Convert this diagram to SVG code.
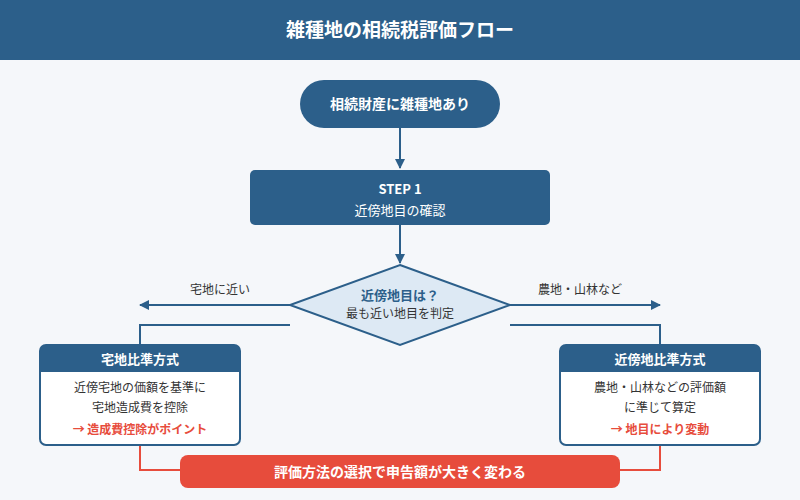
<svg xmlns="http://www.w3.org/2000/svg" width="800" height="500" viewBox="0 0 800 500">
<defs>
<marker id="ah" markerWidth="10" markerHeight="10" refX="9" refY="5" orient="auto" markerUnits="userSpaceOnUse"><path d="M0,0 L10,5 L0,10 z" fill="#2c5f8a"/></marker>
<style>
text{font-family:"Noto Sans CJK JP","Noto Sans",sans-serif;text-anchor:middle}
.w{fill:#fff}.b{font-weight:bold}
.dk{fill:#2c5f8a}
.ln{stroke:#2c5f8a;stroke-width:2;fill:none}
.rl{stroke:#e74c3c;stroke-width:2;fill:none}
.t{fill:#333;font-size:12px}
</style>
</defs>
<rect width="800" height="500" fill="#f5f7fa"/>
<rect width="800" height="60" fill="#2c5f8a"/>
<text x="400" y="37" class="w b" font-size="19">雑種地の相続税評価フロー</text>
<g id="connectors">
<line x1="400" y1="128" x2="400" y2="168" class="ln" marker-end="url(#ah)"/>
<line x1="400" y1="225" x2="400" y2="263" class="ln" marker-end="url(#ah)"/>
<line x1="290" y1="305" x2="140" y2="305" class="ln" marker-end="url(#ah)"/>
<line x1="510" y1="305" x2="660" y2="305" class="ln" marker-end="url(#ah)"/>
<polyline points="290,325 140,325 140,345" class="ln"/>
<polyline points="510,325 660,325 660,345" class="ln"/>
<text x="220" y="294" fill="#333" font-size="12">宅地に近い</text>
<text x="580" y="294" fill="#333" font-size="12">農地・山林など</text>
<polyline points="140,445 140,470 180,470" class="rl"/>
<polyline points="660,445 660,470 620,470" class="rl"/>
</g>
<g id="start"><rect x="300" y="80" width="200" height="48" rx="24" class="dk"/><text x="400" y="109" class="w b" font-size="14">相続財産に雑種地あり</text></g>
<g id="step1"><rect x="250" y="170" width="300" height="55" rx="5" class="dk"/><text x="400" y="194" class="w b" font-size="13">STEP 1</text><text x="400" y="215" class="w" font-size="13">近傍地目の確認</text></g>
<g id="decision"><polygon points="400,265 510,305 400,345 290,305" fill="#dde9f4" stroke="#2c5f8a" stroke-width="2"/><text x="400" y="300" fill="#2c5f8a" class="b" font-size="13">近傍地目は？</text><text x="400" y="318" class="t" font-size="11">最も近い地目を判定</text></g>
<g id="left"><rect x="40" y="345" width="200" height="100" rx="6" fill="#fff" stroke="#2c5f8a" stroke-width="2"/><path d="M40,372 V351 a6,6 0 0 1 6,-6 H234 a6,6 0 0 1 6,6 V372 z" class="dk"/><text x="140" y="364" class="w b" font-size="13">宅地比準方式</text><text x="140" y="392" class="t">近傍宅地の価額を基準に</text><text x="140" y="412" class="t">宅地造成費を控除</text><text x="140" y="434" fill="#e74c3c" class="b" font-size="12">→ 造成費控除がポイント</text></g>
<g id="right"><rect x="560" y="345" width="200" height="100" rx="6" fill="#fff" stroke="#2c5f8a" stroke-width="2"/><path d="M560,372 V351 a6,6 0 0 1 6,-6 H754 a6,6 0 0 1 6,6 V372 z" class="dk"/><text x="660" y="364" class="w b" font-size="13">近傍地比準方式</text><text x="660" y="392" class="t">農地・山林などの評価額</text><text x="660" y="412" class="t">に準じて算定</text><text x="660" y="434" fill="#e74c3c" class="b" font-size="12">→ 地目により変動</text></g>
<g id="result"><rect x="180" y="455" width="440" height="33" rx="8" fill="#e74c3c"/><text x="400" y="477" class="w b" font-size="14">評価方法の選択で申告額が大きく変わる</text></g>
</svg>
